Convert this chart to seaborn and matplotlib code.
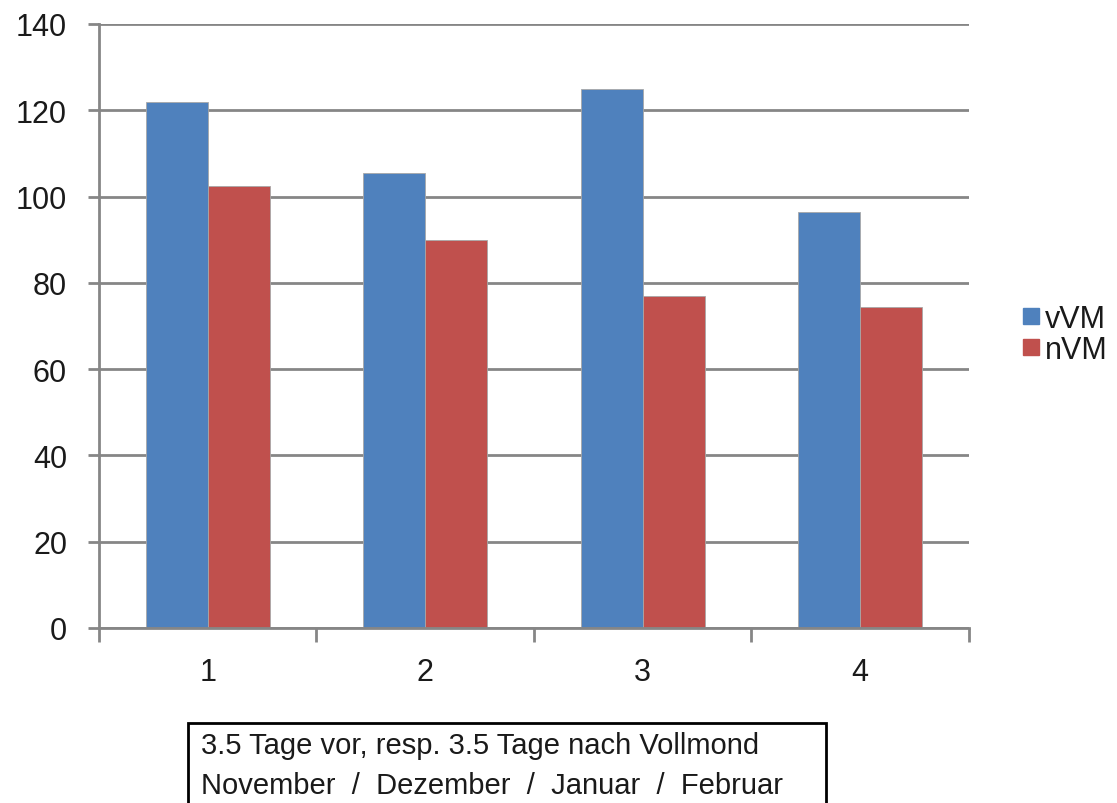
import matplotlib
matplotlib.use("Agg")
import matplotlib.pyplot as plt
import seaborn as sns
import pandas as pd
from matplotlib.patches import Rectangle

# values
categories = ["1", "2", "3", "4"]
vvm = [122, 105.5, 125, 96.5]
nvm = [102.5, 90, 77, 74.5]
series_names = ["vVM", "nVM"]
y_ticks = [0, 20, 40, 60, 80, 100, 120, 140]
note_lines = [
    "3.5 Tage vor, resp. 3.5 Tage nach Vollmond",
    "November  /  Dezember  /  Januar  /  Februar",
]

df = pd.DataFrame({
    "cat": categories * 2,
    "value": vvm + nvm,
    "series": [series_names[0]] * len(vvm) + [series_names[1]] * len(nvm),
})

sns.set_style("white")
plt.rcParams["font.family"] = ["Liberation Sans", "DejaVu Sans"]

colors = ["#4F81BD", "#C0504D"]
grid_col = "#868686"
fig = plt.figure(figsize=(11.17, 8.04), dpi=100)
ax = fig.add_axes([0.0886, 0.2177, 0.7789, 0.7513])

sns.barplot(
    data=df, x="cat", y="value", hue="series",
    palette=colors, saturation=1, width=0.57, gap=0,
    edgecolor="#a8a8a8", linewidth=0.6, ax=ax, legend=False,
)

ax.set_xlim(-0.5, 3.5)
ax.set_ylim(0, 140)
ax.set_yticks(y_ticks)
ax.set_xlabel("")
ax.set_ylabel("")
ax.yaxis.grid(True, color=grid_col, linewidth=2)
ax.set_axisbelow(True)

for s in ["top", "right"]:
    ax.spines[s].set_visible(False)
for s in ["left", "bottom"]:
    ax.spines[s].set_color(grid_col)
    ax.spines[s].set_linewidth(2)

ax.tick_params(axis="y", which="major", length=8, width=2, color=grid_col,
               labelsize=22, pad=15, direction="out", left=True,
               labelcolor="#1a1a1a")
ax.tick_params(axis="x", which="major", length=0, labelsize=22, pad=21,
               labelcolor="#1a1a1a")
ax.set_xticks([-0.5, 0.5, 1.5, 2.5, 3.5], minor=True)
ax.tick_params(axis="x", which="minor", length=10, width=2, color=grid_col,
               direction="out", bottom=True)

handles = [
    plt.Line2D([], [], marker="s", linestyle="", markersize=12,
               markerfacecolor=c, markeredgecolor=c)
    for c in colors
]
fig.legend(handles, series_names, loc="center left",
           bbox_to_anchor=(0.912, 0.583), frameon=False, fontsize=22,
           handletextpad=0.05, labelspacing=0.05, handlelength=0.8,
           borderpad=0, borderaxespad=0, labelcolor="#1a1a1a")

box = Rectangle((188 / 1117, -0.05), (826 - 188) / 1117, 0.05 + (804 - 724) / 804,
                transform=fig.transFigure, fill=False, edgecolor="black",
                linewidth=2)
fig.patches.append(box)
fig.text(201 / 1117, 1 - 746 / 804, note_lines[0], fontsize=21,
         va="center", ha="left", color="#1a1a1a")
fig.text(201 / 1117, 1 - 786 / 804, note_lines[1], fontsize=21,
         va="center", ha="left", color="#1a1a1a")

fig.savefig("out.png", dpi=100)
